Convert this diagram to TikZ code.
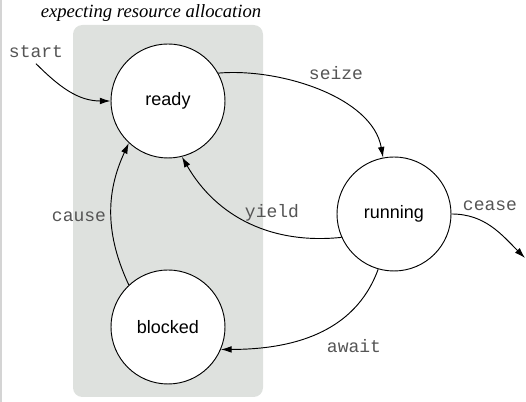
\documentclass[tikz,border=0pt]{standalone}
\usepackage{fontspec}
\setmainfont{Liberation Serif}
\setsansfont{Liberation Sans}
\setmonofont{Liberation Mono}
\usepackage{xcolor}
\usetikzlibrary{arrows.meta}

\definecolor{regionfill}{HTML}{DEE1DE}
\definecolor{edgetext}{HTML}{555555}

\tikzset{
  state/.style={circle,draw,fill=white,line width=0.7pt,minimum size=85.5pt,inner sep=0pt,
    font=\sffamily\fontsize{13.5}{16}\selectfont},
  edgelabel/.style={font=\ttfamily\fontsize{13.5}{16}\selectfont,text=edgetext,inner sep=1pt},
  trans/.style={->,line width=0.7pt},
  >={Latex[length=8pt,width=5pt]}
}

\begin{document}
\begin{tikzpicture}[x=0.75pt,y=0.75pt]
	\useasboundingbox (0,0) rectangle (526,402);
	\fill[black!17] (0,0) rectangle (2,402);
	\fill[regionfill,rounded corners=7pt] (73,5) rectangle (263,377);
	\node(title) at (151,389) {\fontsize{14}{16}\selectfont\itshape expecting resource allocation};
	
	\node(ready) at (168,301)[state]{ready};
	\node(running) at (394,188)[state]{running};
	\node(blocked) at (168,75)[state]{blocked};
	
	\node(start) at (36,350)[edgelabel,inner sep=4pt]{start};
	\node(seize) at (336,329)[edgelabel]{seize};
	\node(yield) at (272,189)[edgelabel]{yield};
	\node(cease) at (490,196)[edgelabel]{cease};
	\node(await) at (354,56)[edgelabel]{await};
	\node(cause) at (79,185)[edgelabel]{cause};
	\coordinate(exit) at (525,144);
	
	\draw[trans] (start.south) to[out=-45,in=180] (ready);
	\draw[trans, looseness=0.85] (ready.29) to[out=5,in=100] (running.101);
	\draw[trans] (running.204) to[out=186,in=-60] (ready.284);
	\draw[trans] (running.0) to[out=0,in=135] (exit);
	\draw[trans] (running.254) to[out=250,in=0] (blocked.337);
	\draw[trans, bend left=25] (blocked.133) to (ready.227);
\end{tikzpicture}
\end{document}
